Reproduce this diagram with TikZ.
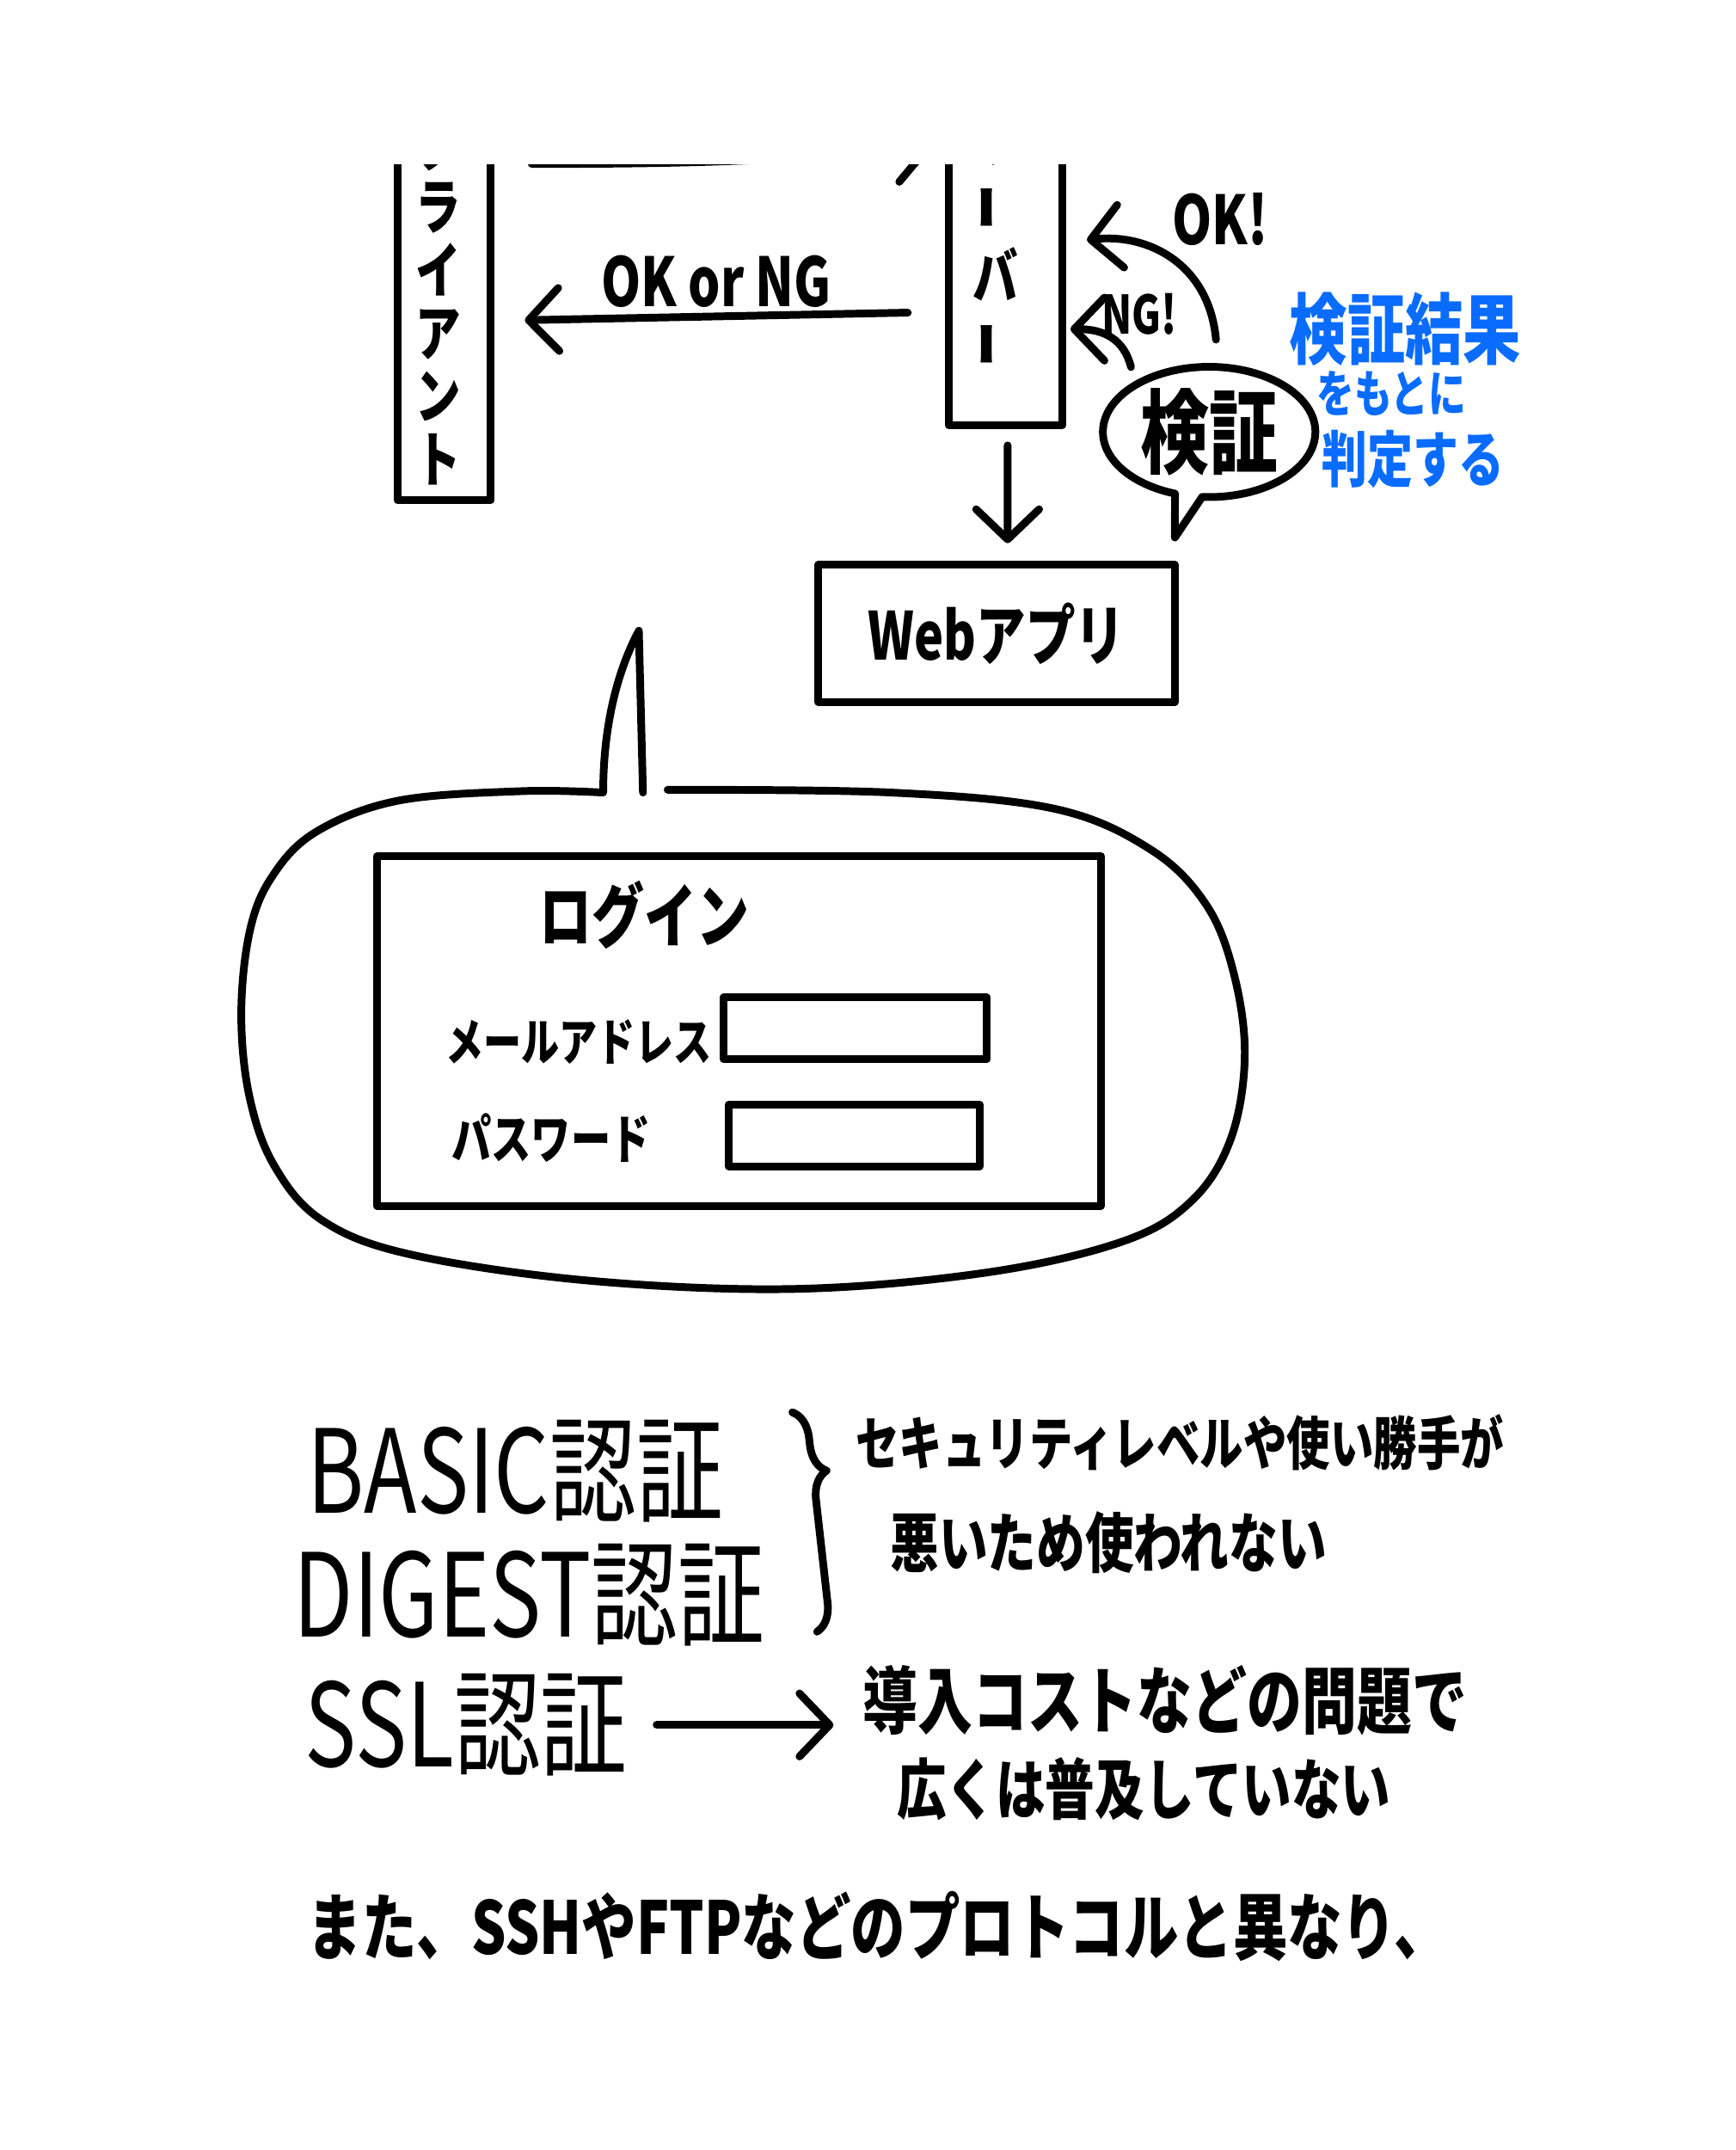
\documentclass[tikz,border=0pt]{standalone}
\usepackage{fontspec}
\usetikzlibrary{arrows.meta, calc, shapes.callouts, decorations.pathreplacing}
\newfontfamily\hand[FakeStretch=0.75]{Noto Sans CJK JP}
\newcommand{\handsize}[1]{\hand\bfseries\fontsize{#1}{#1}\selectfont}
\newcommand{\handbig}[1]{\hand\fontsize{#1}{#1}\selectfont}
\definecolor{markerblue}{HTML}{0A6CFF}

\begin{document}
\begin{tikzpicture}[x=0.1mm, y=-0.1mm, line width=1.6pt, line cap=round, line join=round,
  >={Straight Barb[length=2.2mm, width=4.6mm, round]}]
% Define styles
\tikzstyle{lane} = [rectangle, draw, minimum width=6.8mm, inner sep=0pt]
\tikzstyle{box} = [rectangle, draw, inner sep=0pt]
\tikzstyle{scribble} = [font=\hand, inner sep=1pt]
\tikzstyle{vscribble} = [scribble, align=center]
\tikzstyle{note} = [scribble, text=markerblue]
\tikzstyle{heading} = [scribble, anchor=west, font={\handbig{24}}]

\useasboundingbox (0,0) rectangle (1266,1568);
\begin{scope}
\clip (0,120) rectangle (1266,1568);

% Nodes
\node (client) [lane, minimum height=38.5mm] at (324,172.5) {};
\node (clienttext) [vscribble, font={\hand\bfseries\fontsize{12.5}{13.1}\selectfont}] at (320,219) {ク\\ラ\\イ\\ア\\ン\\ト};
\node (server) [lane, minimum width=8.3mm, minimum height=33mm] at (733.5,145) {};
\node (servertext) [vscribble, font={\hand\bfseries\fontsize{12.5}{14.2}\selectfont}] at (726,175) {サ\\\rotatebox{90}{ー}\\バ\\\rotatebox{90}{ー}};
\node (webapp) [box, minimum width=26mm, minimum height=10mm, font={\handsize{13.7}}] at (727,462) {Webアプリ};
\node (verify) [ellipse callout, draw, minimum width=15.5mm, minimum height=9.5mm, inner sep=0pt,
  callout absolute pointer={(857,392)}, font={\handsize{19}}] at (882,315) {検証};
\node (oktext) [scribble, font={\handsize{14}}] at (890,160) {OK!};
\node (ngtext) [scribble, font={\handsize{11}}] at (831,229) {NG!};
\node (note1) [note, font={\handsize{16}}] at (1025,240) {検証結果};
\node (note2) [note, font={\handsize{10.4}}] at (1015,287) {をもとに};
\node (note3) [note, font={\handsize{12.6}}] at (1031,335) {判定する};

% Login screen
\draw plot[smooth, tension=0.6] coordinates {(487,576) (650,578) (770,590) (840,620) (880,660) (900,710)
  (908,770) (898,830) (870,875) (820,905) (720,928) (580,940) (430,934) (300,915) (235,890) (200,850)
  (182,800) (176,740) (182,680) (198,640) (230,607) (290,584) (380,577) (440,578)}
  .. controls (440,530) and (450,490) .. (466,460) -- (469,578);
\node (login) [box, minimum width=52.8mm, minimum height=25.5mm] at (539,752) {};
\node (logintitle) [scribble, font={\handsize{14.5}}] at (470,667) {ログイン};
\node (mailtext) [scribble, font={\handsize{10.5}}] at (422,760) {メールアドレス};
\node (mailfield) [box, minimum width=19.2mm, minimum height=4.5mm] at (624,750) {};
\node (passtext) [scribble, font={\handsize{11}}] at (402,830) {パスワード};
\node (passfield) [box, minimum width=18.3mm, minimum height=4.5mm] at (623,828) {};

% Notes
\node (basic) [heading] at (218,1073) {BASIC認証};
\node (digest) [heading] at (208,1163) {DIGEST認証};
\node (ssl) [heading] at (216,1258) {SSL認証};
\node (secu1) [scribble, anchor=west, font={\handsize{12}}] at (618,1052) {セキュリティレベルや使い勝手が};
\node (secu2) [scribble, anchor=west, font={\handsize{13.5}}] at (643,1125) {悪いため使われない};
\node (intro1) [scribble, anchor=west, font={\handsize{15.2}}] at (623,1240) {導入コストなどの問題で};
\node (intro2) [scribble, anchor=west, font={\handsize{13.7}}] at (648,1305) {広くは普及していない};
\node (also) [scribble, anchor=west, font={\handsize{15.1}}] at (218,1405) {また、SSHやFTPなどのプロトコルと異なり、};
\draw[decorate, decoration={brace, amplitude=2mm, aspect=0.28}] (578,1030) -- (596,1190);

% Arrows
\draw[->] ($(client.east)+(27,-53)$) .. controls +(175,0.5) and +(-60,4) .. ($(server.west)+(-10,-37)$);
\draw[->] ($(server.west)+(-27,83)$) -- node[scribble, above, font={\handsize{14}}] (okng) {OK or NG} ($(client.east)+(22,61)$);
\draw[->] ($(server.south)+(1.5,12)$) -- ($(webapp.north)+(8,-13)$);
\draw[->] ($(verify.north)+(5,-17)$) .. controls +(-5,-55) and +(45,-5) .. ($(server.east)+(15,30)$);
\draw[->] ($(verify.north)+(-57,3)$) .. controls +(-5,-20) and +(25,0) .. ($(server.east)+(3,95)$);
\draw[->, shorten <=1.5mm, shorten >=1.5mm] (ssl.east) -- (ssl.east -| intro1.west);
\end{scope}
\end{tikzpicture}
\end{document}
